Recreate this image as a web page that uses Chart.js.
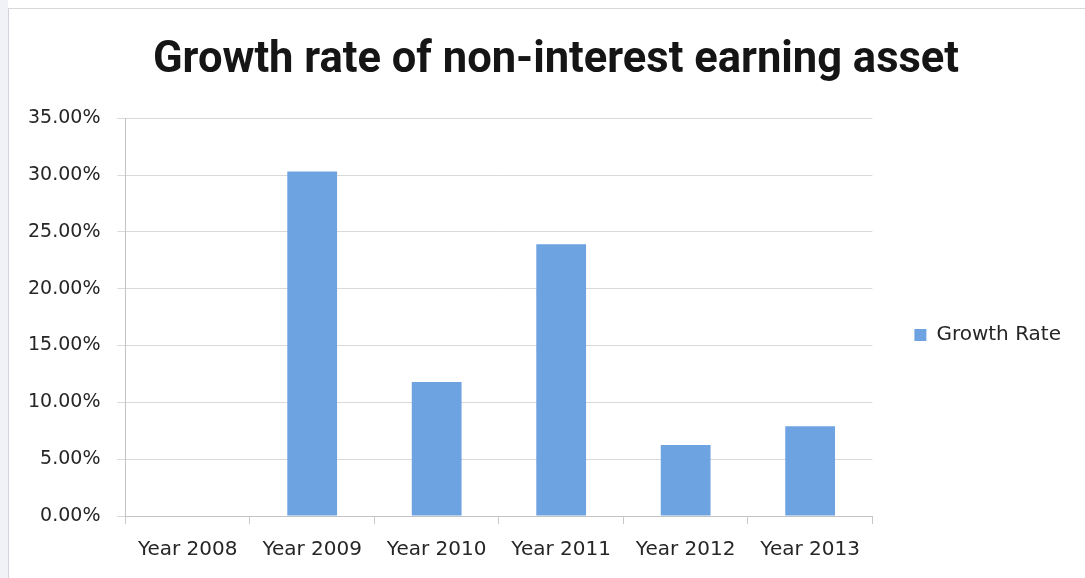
<!DOCTYPE html>
<html>
<head>
<meta charset="utf-8">
<script src="https://cdn.jsdelivr.net/npm/chart.js@4"></script>
<style>
  html, body { margin: 0; padding: 0; background: #fff; overflow: hidden; }
  #strip { position: absolute; left: 0; top: 0; width: 8px; height: 578px; background: #f1f2f7; }
  #frame {
    position: absolute; left: 8px; top: 8px; width: 1077px; height: 570px;
    border-left: 1px solid #d2d4dc; border-top: 1px solid #d8d8d8; box-sizing: border-box;
  }
  #wrap { position: absolute; left: 0; top: 0; width: 1085px; height: 578px; }
</style>
</head>
<body>
<div id="strip"></div>
<div id="frame"></div>
<div id="wrap"><canvas id="myChart"></canvas></div>
<script>
// growth rate per year, in percent
var years = ["Year 2008", "Year 2009", "Year 2010", "Year 2011", "Year 2012", "Year 2013"];
var growthRate = [0, 30.3, 11.8, 23.9, 6.25, 7.9];
var yTicks = [0, 5, 10, 15, 20, 25, 30, 35];

var textFont = "'DejaVu Sans', sans-serif";
var titleFont = "Roboto, 'Open Sans', sans-serif";

// nudge the title a bit right and drop the legend lower on the right side
var boxNudge = {
  id: 'boxNudge',
  afterLayout: function (chart) {
    var t = chart.titleBlock;
    if (t) { t.left += 30; }
    var l = chart.legend;
    if (l) { l.top += 47; l.bottom += 47; }
  }
};

var ctx = document.getElementById('myChart');

var myBarChart = new Chart(ctx, {
  type: 'bar',
  data: {
    labels: years,
    datasets: [{
      label: 'Growth Rate',
      data: growthRate,
      backgroundColor: '#6ea3e2',
      borderWidth: 0,
      categoryPercentage: 1,
      barPercentage: 0.4
    }]
  },
  options: {
    responsive: true,
    maintainAspectRatio: false,
    animation: false,
    layout: { padding: { left: 11, right: 14, top: 0, bottom: 2 } },
    plugins: {
      title: {
        display: true,
        text: 'Growth rate of non-interest earning asset',
        color: '#151515',
        font: { family: titleFont, size: 43.5, weight: 'bold' },
        padding: { top: 35, bottom: 31 }
      },
      legend: {
        position: 'right',
        labels: {
          color: '#262626',
          font: { family: textFont, size: 20 },
          boxWidth: 12,
          boxHeight: 12,
          padding: 42
        }
      },
      tooltip: { enabled: false }
    },
    scales: {
      x: {
        grid: {
          color: '#c8c8c8',
          drawOnChartArea: false,
          drawTicks: true,
          tickLength: 8,
          offset: true
        },
        border: { color: '#c4c4c4' },
        ticks: {
          color: '#262626',
          font: { family: textFont, size: 20 },
          padding: 14,
          maxRotation: 0
        }
      },
      y: {
        min: 0,
        max: 35,
        afterBuildTicks: function (axis) {
          axis.ticks = yTicks.map(function (v) { return { value: v }; });
        },
        grid: { color: '#d9d9d9', tickLength: 8 },
        border: { color: '#c4c4c4' },
        ticks: {
          color: '#262626',
          font: { family: textFont, size: 19 },
          padding: 17,
          callback: function (v) { return v.toFixed(2) + '%'; }
        }
      }
    }
  },
  plugins: [boxNudge]
});
</script>
</body>
</html>
